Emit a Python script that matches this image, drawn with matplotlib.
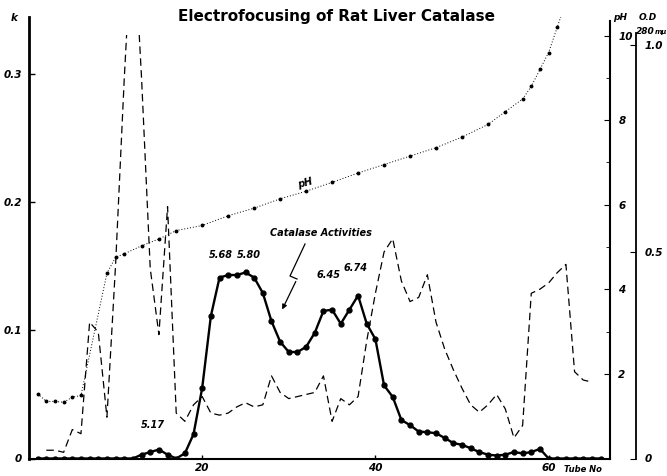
import matplotlib
matplotlib.use("Agg")
import matplotlib.pyplot as plt
from matplotlib.patches import Rectangle

# catalase activity (k), tubes 1..66
tubes = list(range(1, 67))
k_act = [0, 0, 0, 0, 0, 0, 0, 0, 0, 0, 0, 0,
         0.003, 0.005, 0.007, 0.003, 0.0, 0.004, 0.019, 0.055,
         0.111, 0.141, 0.143, 0.143, 0.145, 0.141, 0.129, 0.107, 0.091, 0.083,
         0.083, 0.087, 0.098, 0.115, 0.116, 0.105, 0.116, 0.127, 0.105, 0.093,
         0.057, 0.048, 0.030, 0.026, 0.021, 0.0205, 0.0197, 0.016, 0.012, 0.0107,
         0.008, 0.005, 0.003, 0.0023, 0.003, 0.005, 0.004, 0.005, 0.0075, 0,
         0, 0, 0, 0, 0, 0]

# pH gradient
ph_tubes = [1, 2, 3, 4, 5, 6, 9, 10, 11, 13, 15, 17, 20, 23, 26, 29, 32, 35, 38, 41,
            44, 47, 50, 53, 55, 57, 58, 59, 60, 61, 62]
ph_vals = [1.53, 1.35, 1.35, 1.33, 1.45, 1.49, 4.38, 4.76, 4.84, 5.03, 5.19, 5.39,
           5.51, 5.74, 5.92, 6.14, 6.32, 6.53, 6.75, 6.95,
           7.15, 7.35, 7.6, 7.9, 8.2, 8.5, 8.8, 9.2, 9.6, 10.2, 10.8]

# O.D. 280 mu
od_tubes = list(range(2, 66))
od_vals = [0.02, 0.02, 0.015, 0.07, 0.06, 0.33, 0.306, 0.10, 0.47, 0.92,
           1.31, 0.92, 0.46, 0.30, 0.61, 0.11, 0.09, 0.13, 0.15, 0.11,
           0.105, 0.11, 0.125, 0.135, 0.125, 0.13, 0.20, 0.16, 0.145, 0.15,
           0.155, 0.16, 0.20, 0.09, 0.145, 0.13, 0.15, 0.285, 0.40, 0.50,
           0.532, 0.43, 0.38, 0.39, 0.445, 0.33, 0.265, 0.215, 0.17, 0.13,
           0.112, 0.13, 0.155, 0.12, 0.05, 0.08, 0.40, 0.41, 0.425, 0.45,
           0.47, 0.21, 0.19, 0.185]

W, H = 667, 476
fig = plt.figure(figsize=(W / 100, H / 100), dpi=100)
L, R, B, T = 29, 610, 458.5, 17
ax = fig.add_axes([L / W, 1 - B / H, (R - L) / W, (B - T) / H])

fx = lambda x: x / W
fy = lambda y: 1 - y / H
lab = dict(fontsize=7.5, fontstyle='italic', fontweight='bold')

ax.plot(tubes, k_act, color='black', lw=1.7, marker='o', ms=3.5, zorder=5)
ax.set_xlim(0, 67.09)
ax.set_ylim(0, 0.3441)
ax.spines['top'].set_visible(False)
ax.spines['right'].set_visible(False)
ax.spines['left'].set_linewidth(2)
ax.spines['bottom'].set_linewidth(1.5)
ax.set_yticks([0, 0.1, 0.2, 0.3])
ax.set_yticklabels(['0', '0.1', '0.2', '0.3'], **lab)
ax.set_xticks([20, 40, 60])
ax.set_xticklabels(['20', '40', '60'], **lab)
ax.tick_params(axis='y', direction='in', length=4, width=1, pad=5)
ax.tick_params(axis='x', direction='in', length=3, width=1, pad=3)

# pH axis
ax_ph = ax.twinx()
ax_ph.plot(ph_tubes, ph_vals, color='black', lw=0.7, ls=(0, (1, 2)),
           marker='o', ms=1.8)
ax_ph.set_ylim(0, 10.44)
for s in ['top', 'left', 'bottom']:
    ax_ph.spines[s].set_visible(False)
ax_ph.spines['right'].set_linewidth(1.5)
ax_ph.spines['right'].set_bounds(0, 10.35)
ax_ph.set_yticks([2, 4, 6, 8, 10])
ax_ph.set_yticklabels(['2', '4', '6', '8', '10'], **lab)
ax_ph.set_yticks([3, 5, 7, 9], minor=True)
ax_ph.tick_params(axis='y', which='major', direction='in', length=4, pad=6)
ax_ph.tick_params(axis='y', which='minor', direction='in', length=3)

# O.D. axis
ax_od = ax.twinx()
od_line, = ax_od.plot(od_tubes, od_vals, color='black', lw=0.9, ls=(0, (6, 3.5)))
ax_od.set_ylim(0, 1.069)
clip = Rectangle((0, 0), 67.09, 1.025, transform=ax_od.transData)
od_line.set_clip_path(clip)
for s in ['top', 'left', 'bottom']:
    ax_od.spines[s].set_visible(False)
ax_od.spines['right'].set_position(('axes', (636 - L) / (R - L)))
ax_od.spines['right'].set_linewidth(1.3)
ax_od.spines['right'].set_bounds(0, 1.03)
ax_od.set_yticks([0, 0.5, 1.0])
ax_od.set_yticklabels(['0', '0.5', '1.0'], **lab)
ax_od.tick_params(axis='y', direction='in', length=4, pad=6)

# texts
fig.text(fx(336), fy(17), 'Electrofocusing of Rat Liver Catalase',
         ha='center', va='center', fontsize=11, fontweight='bold')
fig.text(fx(14), fy(18), 'k', ha='center', va='center', **lab)
small = dict(fontsize=6.5, fontstyle='italic', fontweight='bold')
fig.text(fx(620), fy(17), 'pH', ha='center', va='center', **small)
fig.text(fx(648), fy(17), 'O.D', ha='center', va='center', **small)
fig.text(fx(645), fy(31), '280', ha='center', va='center', **small)
fig.text(fx(661), fy(32), 'm\u03bc', ha='center', va='center', fontsize=5,
         fontstyle='italic', fontweight='bold')
fig.text(fx(583), fy(470), 'Tube No', ha='center', va='center', fontsize=6,
         fontstyle='italic', fontweight='bold')

ann = dict(ha='center', va='center', fontsize=7, fontstyle='italic', fontweight='bold')
fig.text(fx(221), fy(255), '5.68', **ann)
fig.text(fx(249), fy(255), '5.80', **ann)
fig.text(fx(329), fy(275), '6.45', **ann)
fig.text(fx(356), fy(268), '6.74', **ann)
fig.text(fx(153), fy(425), '5.17', **ann)
fig.text(fx(321), fy(233), 'Catalase Activities', **ann)
fig.text(fx(305), fy(183), 'pH', rotation=15, **ann)

# zigzag arrow
zx = [305, 290, 297]
zy = [244, 276, 279]
fig.add_artist(plt.Line2D([fx(v) for v in zx], [fy(v) for v in zy],
                          transform=fig.transFigure, color='black', lw=0.9))
fig.add_artist(matplotlib.patches.FancyArrowPatch(
    (fx(297), fy(279)), (fx(281), fy(312)), transform=fig.transFigure,
    arrowstyle='-|>', mutation_scale=7, color='black', lw=0.9))

fig.savefig('out.png', dpi=100)
